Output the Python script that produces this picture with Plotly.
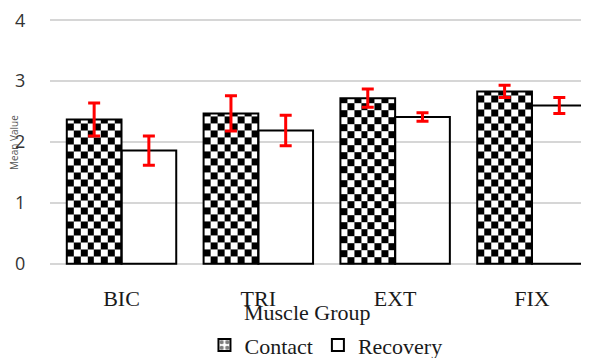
import numpy as np
import plotly.graph_objects as go

# ---- data ----
categories = ["BIC", "TRI", "EXT", "FIX"]
contact = [2.37, 2.47, 2.72, 2.83]
contact_err = [0.27, 0.29, 0.15, 0.10]
recovery = [1.86, 2.19, 2.41, 2.60]
recovery_err = [0.24, 0.25, 0.07, 0.13]
y_ticks = [0, 1, 2, 3, 4]
series_names = ["Contact", "Recovery"]
x_title = "Muscle Group"
y_title = "Mean Value"

# ---- styling constants ----
pos = np.arange(len(categories))
BAR_W = 0.4
N_COLS = 8
CELL_Y = 0.115
SERIF = "Liberation Serif"

fig = go.Figure()

# checkerboard fill for the Contact bars (built from the data values)
for i, v in enumerate(contact):
    xe = np.linspace(pos[i] - BAR_W, pos[i], N_COLS + 1)
    ye = np.append(np.arange(0, v - 1e-6, CELL_Y), v)
    nr, nc = len(ye) - 1, len(xe) - 1
    z = np.add.outer(np.arange(nr), np.arange(nc)) % 2
    fig.add_trace(go.Heatmap(
        x=xe, y=ye, z=z,
        colorscale=[[0, "white"], [1, "black"]], zmin=0, zmax=1,
        showscale=False, hoverinfo="skip",
    ))

err_style = dict(type="data", color="#ff0000", thickness=3, width=6)

# Contact outline bars
fig.add_trace(go.Bar(
    x=pos, y=contact, width=BAR_W, offset=-BAR_W,
    name=series_names[0], showlegend=False,
    marker=dict(color="rgba(0,0,0,0)", line=dict(color="black", width=2)),
    error_y=dict(array=contact_err, **err_style),
))
# Recovery bars
fig.add_trace(go.Bar(
    x=pos, y=recovery, width=BAR_W, offset=0,
    name=series_names[1], legendrank=2,
    marker=dict(color="rgba(0,0,0,0)", line=dict(color="black", width=2)),
    error_y=dict(array=recovery_err, **err_style),
))
# legend entry for Contact
fig.add_trace(go.Bar(
    x=[None], y=[None], name=series_names[0], legendrank=1,
    marker=dict(color="white", line=dict(color="black", width=2),
                pattern=dict(shape=".", fgcolor="black", bgcolor="white",
                             size=7, solidity=0.45)),
))

# the page body adds an 8px margin, so the figure is shifted by 8px
fig.update_layout(
    width=581, height=358,
    margin=dict(l=42, r=0, t=11, b=101, autoexpand=False),
    plot_bgcolor="white", paper_bgcolor="white",
    barmode="overlay",
    showlegend=True,
    xaxis=dict(
        range=[-0.5227, 3.417], tickvals=pos, ticktext=categories,
        showgrid=False, zeroline=False, showline=False, automargin=False,
        ticks="outside", ticklen=14, tickcolor="rgba(0,0,0,0)",
        tickfont=dict(family=SERIF, size=22, color="#1a1a1a"),
    ),
    yaxis=dict(
        range=[-0.02, 4.02], tickvals=y_ticks, automargin=False,
        ticklabeloverflow="allow",
        showgrid=True, gridcolor="#d6d6d6", gridwidth=1.5,
        zeroline=False, showline=False,
        ticks="outside", ticklen=20, tickcolor="rgba(0,0,0,0)",
        tickfont=dict(family="Open Sans", size=18, color="#333333"),
    ),
    legend=dict(
        orientation="h", x=0.512, xanchor="center", y=-0.326, yanchor="middle",
        font=dict(family=SERIF, size=22, color="#1a1a1a"),
        bgcolor="rgba(0,0,0,0)",
    ),
    annotations=[
        dict(text=x_title, xref="paper", yref="paper", x=0.477, y=-0.193,
             xanchor="center", yanchor="middle", showarrow=False,
             font=dict(family=SERIF, size=22, color="#1a1a1a")),
        dict(text=y_title, xref="paper", yref="paper", x=-0.067, y=0.5,
             xanchor="center", yanchor="middle", textangle=-90, showarrow=False,
             font=dict(family="Open Sans", size=10, color="#555555")),
    ],
)

fig.write_html("out.html")
